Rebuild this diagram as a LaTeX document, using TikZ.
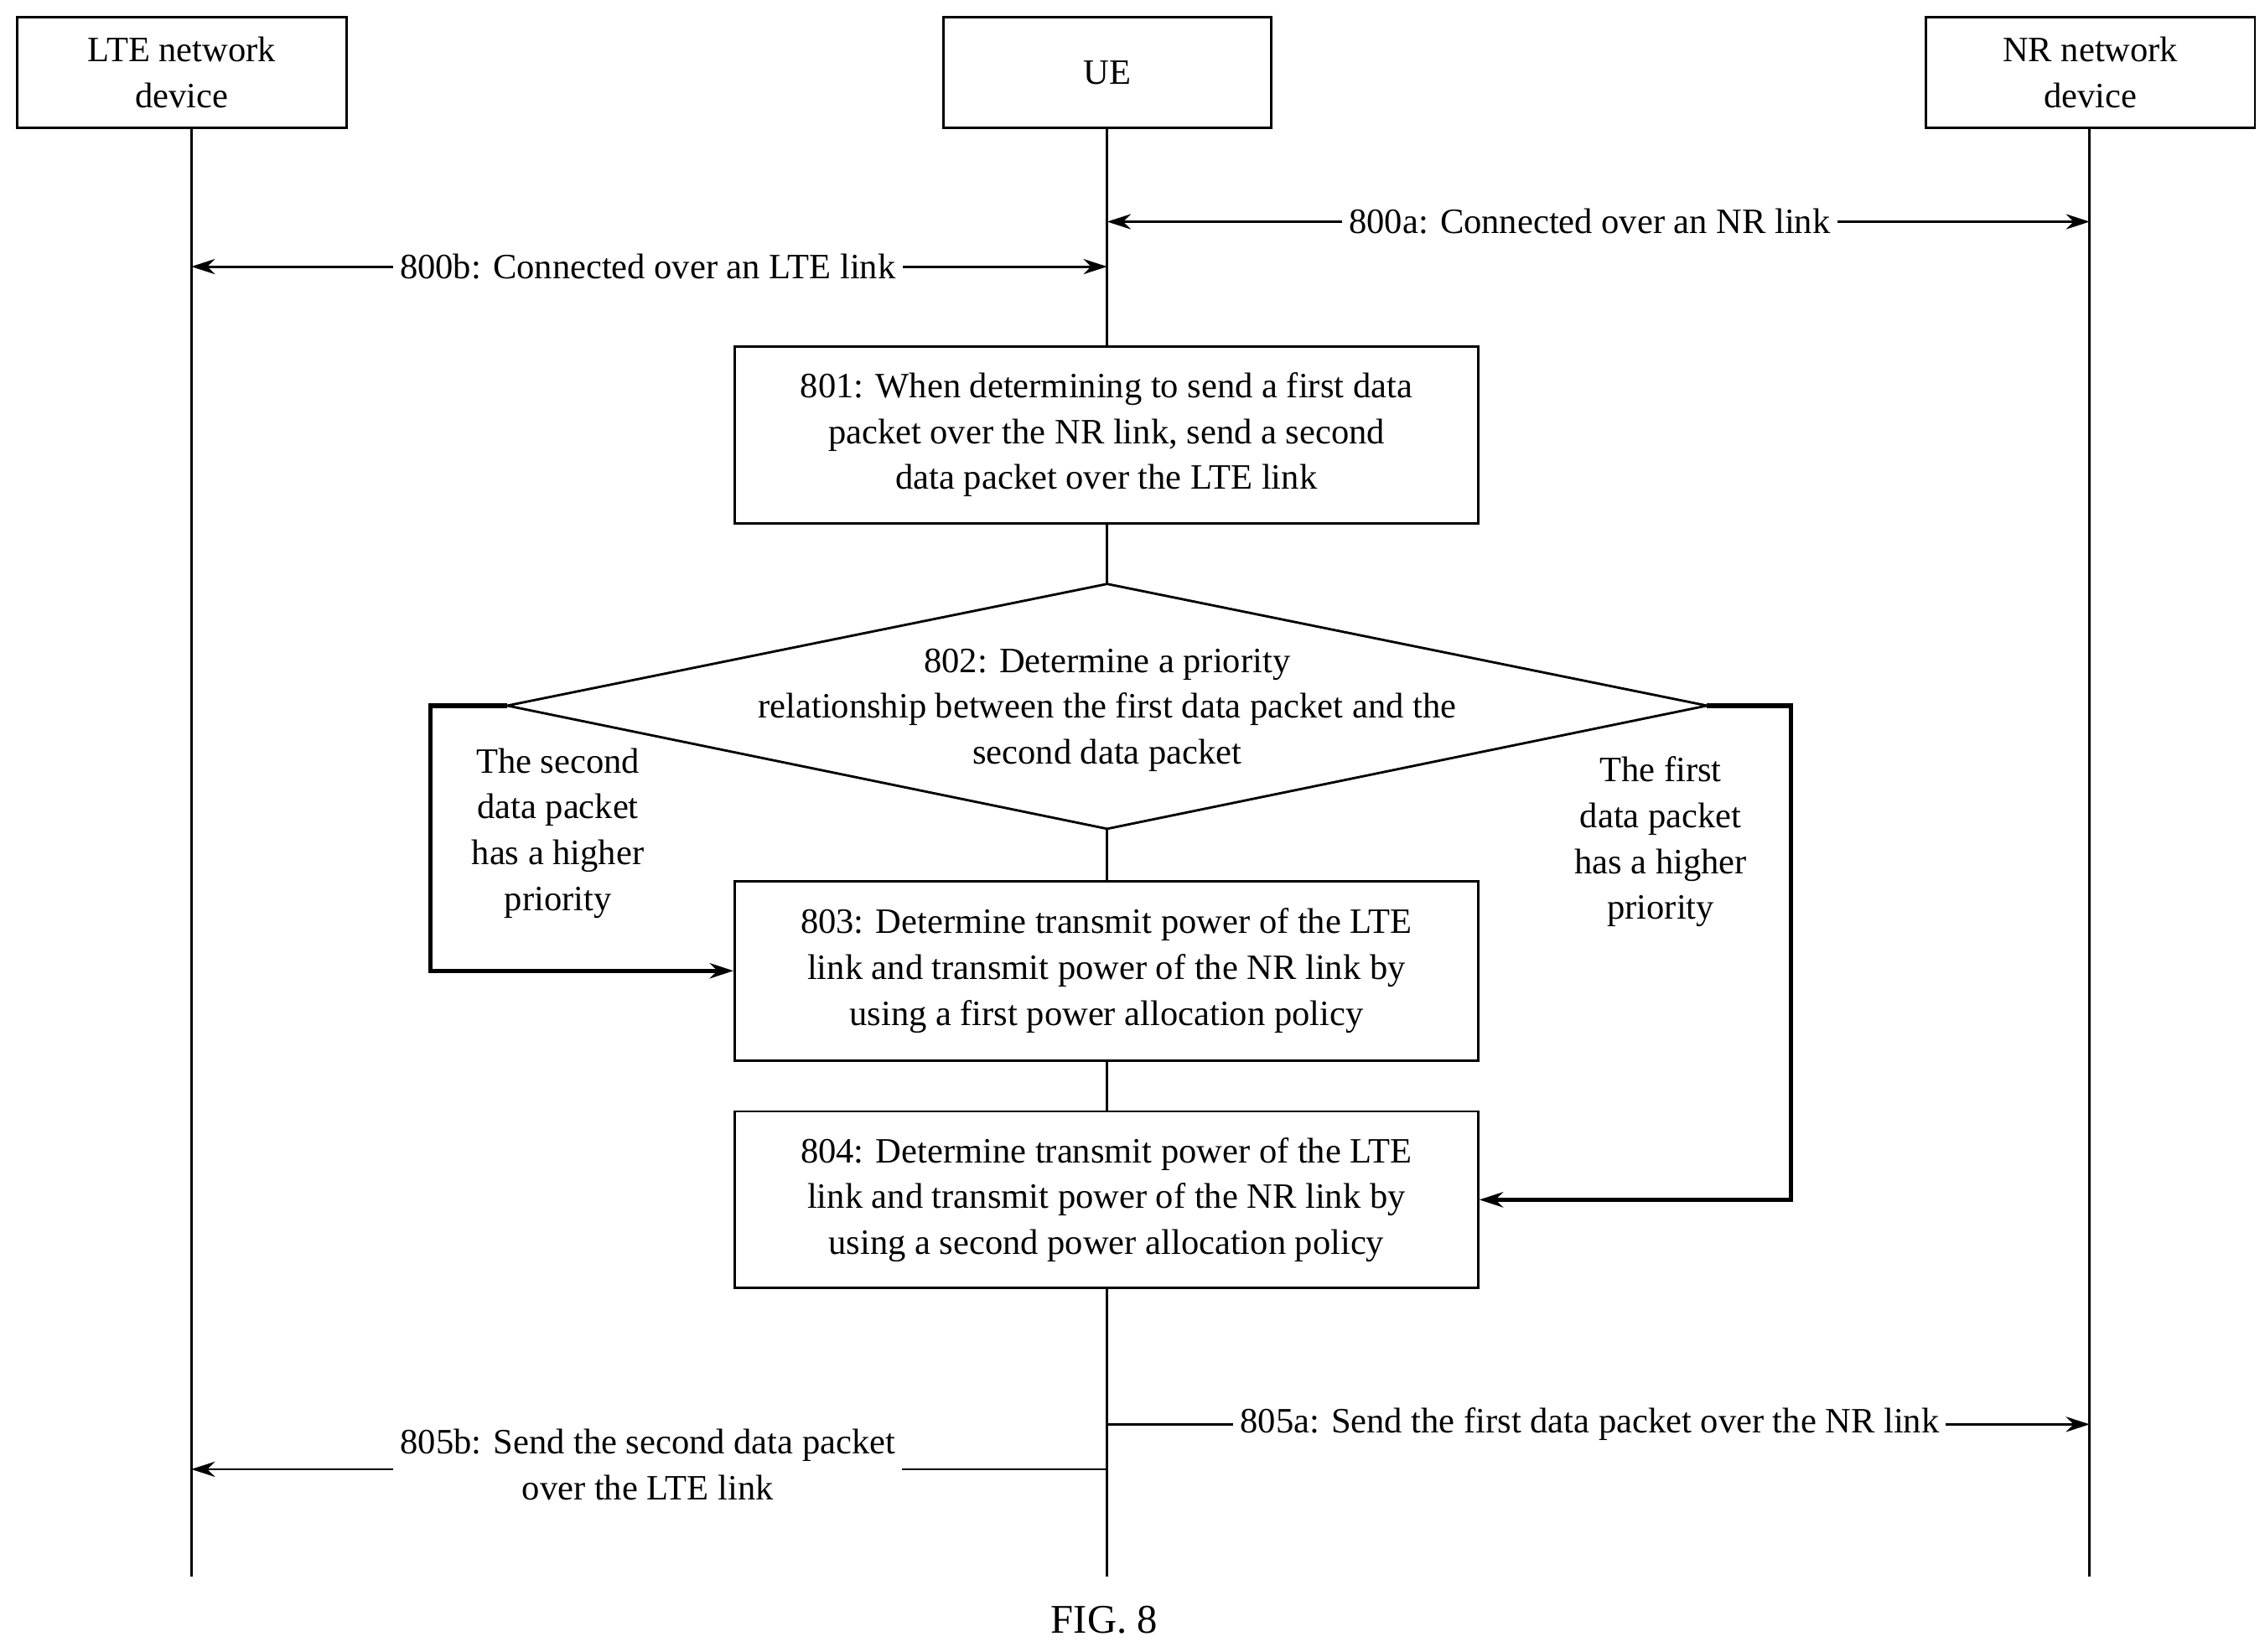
\documentclass[tikz,border=0pt]{standalone}
\usepackage{fontspec}
\setmainfont{Liberation Serif}
\usetikzlibrary{arrows.meta}
\begin{document}
\begin{tikzpicture}[x=0.03cm,y=-0.03cm,
  every node/.style={font=\fontsize{21}{27}\selectfont},
  box/.style={draw,line width=1.4pt,align=center,inner sep=0pt},
  ln/.style={line width=1.4pt},
  arr/.style={ln,-{Stealth[length=14pt,width=9pt]}},
  darr/.style={ln,{Stealth[length=14pt,width=9pt]}-{Stealth[length=14pt,width=9pt]}},
  thk/.style={line width=2.6pt,-{Stealth[length=14pt,width=9pt]}},
  lbl/.style={fill=white,align=center,inner sep=4pt}]
\useasboundingbox (0,0) rectangle (1563,1140);
\node[box,minimum width=227*0.03cm,minimum height=76*0.03cm] (lte) at (125.5,50) {LTE network\\device};
\node[box,minimum width=226*0.03cm,minimum height=76*0.03cm] (ue) at (764,50) {UE};
\node[box,minimum width=227*0.03cm,minimum height=76*0.03cm] (nr) at (1442.5,50) {NR network\\device};
\coordinate (lt) at (132,88); \coordinate (lb) at (132,1088);
\coordinate (ut) at (764,88); \coordinate (ub) at (764,1088);
\coordinate (nt) at (1442,88); \coordinate (nb) at (1442,1088);
\draw[ln] (lt)--(lb); \draw[ln] (ut)--(ub); \draw[ln] (nt)--(nb);
\node[box,fill=white,minimum width=513*0.03cm,minimum height=122*0.03cm] (b801) at (763.5,300) {801: When determining to send a first data\\packet over the NR link, send a second\\data packet over the LTE link};
\draw[ln,fill=white] (764,403) coordinate (dt)--(1178,487) coordinate (dr)--(764,572) coordinate (db)--(350,487) coordinate (dl)--cycle;
\node[align=center] (d802) at (764,490) {802: Determine a priority\\relationship between the first data packet and the\\second data packet};
\node[box,fill=white,minimum width=513*0.03cm,minimum height=124*0.03cm] (b803) at (763.5,670) {803: Determine transmit power of the LTE\\link and transmit power of the NR link by\\using a first power allocation policy};
\node[box,fill=white,minimum width=513*0.03cm,minimum height=122*0.03cm] (b804) at (763.5,828) {804: Determine transmit power of the LTE\\link and transmit power of the NR link by\\using a second power allocation policy};
\draw[darr] (764,153) coordinate (a1)--(1442,153) coordinate (a2);
\node[lbl] (l800a) at (1097,153) {800a: Connected over an NR link};
\draw[darr] (132,184) coordinate (b1)--(764,184) coordinate (b2);
\node[lbl] (l800b) at (447,184) {800b: Connected over an LTE link};
\draw[thk] (dl)--(297,487)--(297,670)--(b803.west);
\draw[thk] (dr)--(1236,487)--(1236,828)--(b804.east);
\node[align=center] (ll) at (385,575) {The second\\data packet\\has a higher\\priority};
\node[align=center] (rl) at (1146,581) {The first\\data packet\\has a higher\\priority};
\draw[arr] (764,983) coordinate (c1)--(1442,983) coordinate (c2);
\node[lbl] (l805a) at (1097,983) {805a: Send the first data packet over the NR link};
\draw[arr] (764,1014) coordinate (e1)--(132,1014) coordinate (e2);
\node[lbl] (l805b) at (447,1011) {805b: Send the second data packet\\over the LTE link};
\node (fig) at (762,1118) {\fontsize{24}{28}\selectfont FIG. 8};
\end{tikzpicture}
\end{document}
